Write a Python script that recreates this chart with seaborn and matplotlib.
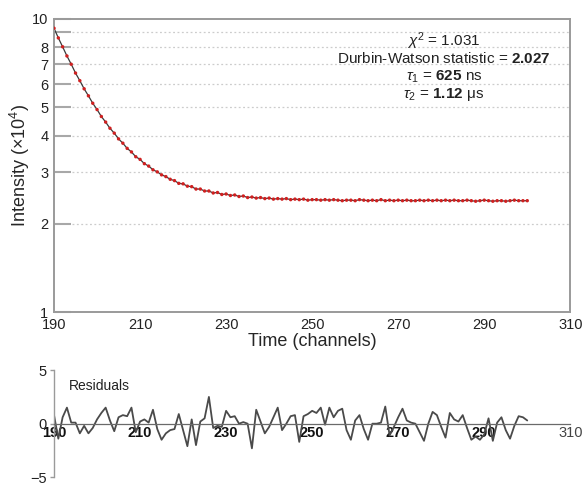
import numpy as np
import pandas as pd
import matplotlib
matplotlib.use("Agg")
import matplotlib.pyplot as plt
import seaborn as sns

channels = list(range(190, 301))

intensity = [
    9.30, 8.62, 8.04, 7.48, 7.01, 6.54, 6.16, 5.78, 5.47, 5.16,
    4.91, 4.65, 4.45, 4.24, 4.08, 3.90, 3.77, 3.62, 3.52, 3.39,
    3.32, 3.21, 3.15, 3.06, 3.01, 2.94, 2.90, 2.84, 2.81, 2.75,
    2.74, 2.69, 2.68, 2.63, 2.63, 2.59, 2.59, 2.55, 2.56, 2.52,
    2.53, 2.50, 2.51, 2.48, 2.49, 2.46, 2.47, 2.45, 2.46, 2.44,
    2.45, 2.43, 2.44, 2.43, 2.44, 2.42, 2.43, 2.42, 2.43, 2.41,
    2.42, 2.42, 2.41, 2.42, 2.41, 2.42, 2.41, 2.40, 2.41, 2.41,
    2.40, 2.42, 2.41, 2.40, 2.41, 2.40, 2.42, 2.40, 2.41, 2.40,
    2.41, 2.40, 2.41, 2.40, 2.40, 2.41, 2.40, 2.41, 2.40, 2.41,
    2.40, 2.41, 2.40, 2.41, 2.40, 2.40, 2.41, 2.40, 2.39, 2.40,
    2.41, 2.40, 2.39, 2.40, 2.40, 2.39, 2.40, 2.41, 2.40, 2.40,
    2.40,
]

residuals = [
    0.8, -1.4, 0.6, 1.5, 0.1, 0.1, -0.9, -0.2, -0.9, -0.4,
    0.4, 1.0, 1.5, 0.3, -0.7, 0.6, 0.8, 0.7, 1.5, -0.8,
    0.2, 0.4, 0.1, 1.3, -0.5, -1.5, -0.9, -0.6, -0.5, 0.9,
    -0.6, -2.1, 0.4, -2.0, 0.2, 0.5, 2.5, -0.4, -0.2, -0.3,
    1.2, 0.6, 0.7, 0.0, 0.15, 0.0, -2.3, 1.3, 0.2, -0.9,
    -0.3, 0.6, 1.5, -0.6, 0.0, 0.7, 0.8, -1.7, 0.7, 0.9,
    1.2, 1.0, 1.5, -0.1, 1.5, 0.6, 1.2, 1.4, -0.6, -1.5,
    0.3, 0.8, -0.5, -1.5, 0.0, 0.0, 0.1, 1.6, -1.1, -0.3,
    0.6, 1.4, 0.3, 0.1, 0.0, -0.8, -1.6, 0.0, 1.1, 0.8,
    -0.3, -1.3, 1.0, 0.4, 0.2, 0.8, -0.4, -1.5, -1.2, -1.5,
    -1.0, 0.5, -1.6, 0.1, 0.6, -0.6, -1.4, -0.2, 0.7, 0.6,
    0.3,
]

y_ticks = [1, 2, 3, 4, 5, 6, 7, 8, 9, 10]
y_ticklabels = ["1", "2", "3", "4", "5", "6", "7", "8", "", "10"]
x_ticks = [190, 210, 230, 250, 270, 290, 310]
res_ticks = [-5, 0, 5]

stats_lines = [
    r"$\chi^2$ = 1.031",
    r"Durbin-Watson statistic = $\mathbf{2.027}$",
    r"$\tau_1$ = $\mathbf{625}$ ns",
    r"$\tau_2$ = $\mathbf{1.12}$ μs",
]

df = pd.DataFrame({"channel": channels, "intensity": intensity, "residual": residuals})

sns.set_style("white")
plt.rcParams["font.family"] = ["Liberation Sans", "DejaVu Sans"]
plt.rcParams["mathtext.fontset"] = "custom"
plt.rcParams["mathtext.rm"] = "Liberation Sans"
plt.rcParams["mathtext.it"] = "Liberation Sans:italic"
plt.rcParams["mathtext.bf"] = "Liberation Sans:bold"

fig = plt.figure(figsize=(5.84, 4.87), dpi=100)
ax = fig.add_axes([0.0925, 0.359, 0.884, 0.602])
ax_r = fig.add_axes([0.0925, 0.02, 0.884, 0.22])

spine_col = "#9a9a9a"

# main decay plot
sns.lineplot(data=df, x="channel", y="intensity", ax=ax, color="#3a3a3a", linewidth=0.9)
sns.scatterplot(data=df, x="channel", y="intensity", ax=ax, color="#d02020", s=6,
                edgecolor="none", zorder=3)
ax.set_yscale("log")
ax.set_ylim(1, 10)
ax.set_xlim(190, 310)
ax.set_yticks(y_ticks)
ax.set_yticklabels(y_ticklabels)
ax.minorticks_off()
ax.set_xticks(x_ticks)
ax.tick_params(axis="y", left=True, direction="in", length=12, width=1.5, color="#a8a8a8",
               labelsize=10.5, labelcolor="#222222", pad=4)
ax.tick_params(axis="x", length=0, labelsize=10.5, labelcolor="#222222", pad=4)
for y in y_ticks[1:-1]:
    ax.axhline(y, xmin=0.035, color="#cccccc", linestyle=(0, (1.5, 2)), linewidth=0.9, zorder=0)
for s in ax.spines.values():
    s.set_color(spine_col)
    s.set_linewidth(1.4)
ax.set_xlabel("Time (channels)", fontsize=13, labelpad=1)
ax.set_ylabel(r"Intensity ($\times$10$^4$)", fontsize=13, labelpad=0)

for i, line in enumerate(stats_lines):
    ax.text(0.755, 0.925 - i * 0.0614, line, transform=ax.transAxes, ha="center",
            va="center", fontsize=11, color="#222222")

# residuals
sns.lineplot(data=df, x="channel", y="residual", ax=ax_r, color="#4a4a4a", linewidth=1.3)
ax_r.set_xlim(190, 310)
ax_r.set_ylim(-5, 5)
ax_r.set_yticks(res_ticks)
ax_r.set_yticklabels(["\u22125", "0", "5"])
ax_r.set_xticks(x_ticks)
ax_r.spines["top"].set_visible(False)
ax_r.spines["right"].set_visible(False)
ax_r.spines["bottom"].set_position(("data", 0))
ax_r.spines["bottom"].set_color("#6a6a6a")
ax_r.spines["bottom"].set_linewidth(0.9)
ax_r.spines["left"].set_color(spine_col)
ax_r.spines["left"].set_linewidth(1.0)
ax_r.tick_params(axis="y", left=True, direction="out", length=3, width=1, color=spine_col,
                 labelsize=10.5, labelcolor="#222222", pad=2)
ax_r.tick_params(axis="x", length=0, labelsize=10.5, labelcolor="#111111", pad=2)
for lbl in ax_r.get_xticklabels():
    if lbl.get_text() != "310":
        lbl.set_fontweight("bold")
    else:
        lbl.set_color("#444444")
ax_r.set_xlabel("")
ax_r.set_ylabel("")
ax_r.text(193.5, 3.5, "Residuals", fontsize=10, color="#222222", va="center")

fig.savefig("out.png", dpi=100)
